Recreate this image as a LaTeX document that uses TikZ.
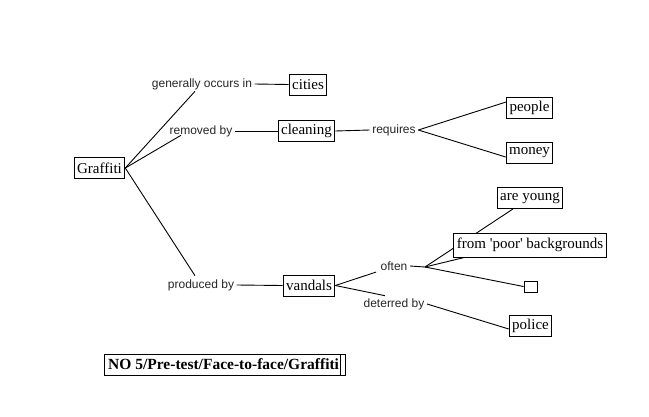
\documentclass[tikz,border=0pt]{standalone}
\usepackage{fontspec}
\setmainfont{Liberation Serif}[Ligatures=ResetAll]
\newfontfamily\labfont{Liberation Sans}
\newcommand\strq{\XeTeXglyph\XeTeXcharglyph"27\relax}
\begin{document}
\begin{tikzpicture}[x=1pt,y=-1pt,
  box/.style={draw,line width=0.9pt,fill=white,font=\fontsize{15}{17}\selectfont,inner xsep=3pt,inner ysep=2pt,minimum height=21pt},
  lab/.style={font=\labfont\fontsize{12}{14}\selectfont,inner sep=2.5pt,text=black!85},
  con/.style={line width=0.9pt}]
\useasboundingbox (0,0) rectangle (649,416);
% nodes
\node[box] (g) at (99.5,168) {Graffiti};
\node[lab] (gen) at (202,84) {generally occurs in};
\node[box] (cit) at (308,84.5) {cities};
\node[lab] (rem) at (201,131) {removed by};
\node[box] (cln) at (306.5,131) {cleaning};
\node[lab] (req) at (394,130) {requires};
\node[box] (peo) at (529.5,108) {people};
\node[box] (mon) at (529.5,153) {money};
\node[lab] (prod) at (201,285) {produced by};
\node[box] (van) at (309,285.5) {vandals};
\node[lab] (oft) at (394,266) {often};
\node[lab] (det) at (394,304) {deterred by};
\coordinate (ob) at (425,267);
\node[box] (ay) at (530,198) {are young};
\draw[con] (ob) -- ([xshift=-17pt]ay.south);
\node[box,minimum height=24pt] (fp) at (530,245) {from \strq poor\strq{} backgrounds};
\node[draw,line width=0.9pt,minimum width=13pt,minimum height=11pt,inner sep=0pt] (eb) at (530.5,286.5) {};
\node[box] (pol) at (530.5,326) {police};
\node[draw,line width=0.9pt,minimum width=241pt,minimum height=21pt,inner sep=0pt] (ttl) at (224.5,364.5) {};
\node[font=\bfseries\fontsize{15.5}{17}\selectfont,inner sep=0pt,anchor=west] (ttx) at (108,364.5) {NO 5/Pre-test/Face-to-face/Graffiti};
\draw[line width=0.9pt] ([xshift=-5pt]ttl.north east) -- ([xshift=-5pt]ttl.south east);
% connectors
\draw[con] (g.east) -- ([xshift=-7pt,yshift=1pt]gen.south);
\draw[con] (gen.east) -- (cit.west);
\draw[con] (g.east) -- ([xshift=-20pt,yshift=4pt]rem.south);
\draw[con] (rem.east) -- (cln.west);
\draw[con] (cln.east) -- (req.west);
\draw[con] (req.east) -- ([yshift=6pt]peo.west);
\draw[con] (req.east) -- ([yshift=-4pt]mon.west);
\draw[con] (g.east) -- ([xshift=-6pt,yshift=1pt]prod.north);
\draw[con] (prod.east) -- (van.west);
\draw[con] (van.east) -- ([xshift=-2pt,yshift=1pt]oft.south west);
\draw[con] (van.east) -- ([xshift=-9pt]det.north);
\draw[con] (oft.east) -- (ob);
\draw[con] (ob) -- ([xshift=11pt]fp.south west);
\draw[con] (ob) -- (eb.west);
\draw[con] (det.east) -- ([yshift=-3pt]pol.west);
\end{tikzpicture}
\end{document}
